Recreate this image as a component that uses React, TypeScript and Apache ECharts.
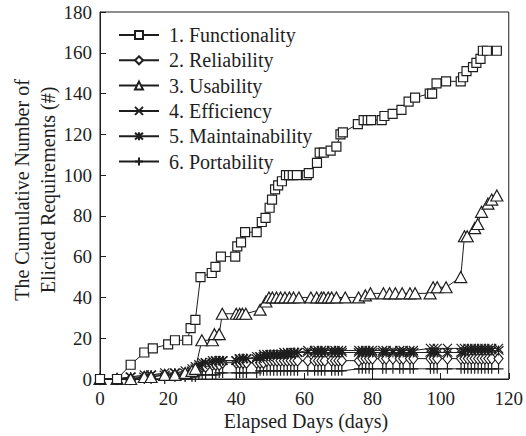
import React, { useEffect, useRef } from "react";
import * as echarts from "echarts";

const FONT = "Liberation Serif";
const INK = "#1e1e1e";

const seriesNames = [
  "1. Functionality",
  "2. Reliability",
  "3. Usability",
  "4. Efficiency",
  "5. Maintainability",
  "6. Portability",
];

const xTicks = [0, 20, 40, 60, 80, 100, 120];
const yTicks = [0, 20, 40, 60, 80, 100, 120, 140, 160, 180];

const funcDays = [0, 5, 9, 13, 15.5, 20, 22, 25.6, 26.6, 28, 29.5, 32.8, 33.9, 35.5, 39.7, 40.3, 41.4, 42.6, 46, 47.5, 48.6, 49.8, 50.5, 51.4, 52.3, 53.4, 54.6, 55.5, 56.6, 57.8, 60.7, 61.3, 63.7, 64.5, 65.7, 67.7, 69.4, 70.6, 71.3, 75.7, 77.4, 78.6, 79.6, 82.7, 83.5, 85.9, 88.5, 90.6, 92.5, 96.8, 97.5, 98.8, 101.6, 105.9, 106.6, 107.6, 109.5, 110.5, 111.7, 112.4, 113.6, 116.5];
const funcVals = [0, 0, 7, 13, 15, 17, 19, 19, 25, 29, 50, 52, 55, 60, 60, 65, 67, 72, 72, 77, 79, 84, 88, 93, 95, 97, 100, 100, 100, 100, 100, 101, 106, 111, 111, 112, 114, 120, 121, 125, 127, 127, 127, 127, 129, 130, 132, 136, 138, 140, 140, 145, 146, 146, 148, 151, 153, 155, 157, 161, 161, 161];

const usabDays = [0, 5, 9, 13, 15, 19, 22, 25, 27, 28, 29.9, 33, 33.6, 35, 35.9, 40, 41, 41.8, 42.8, 47, 48.7, 49.6, 50.6, 51.8, 53, 54.3, 55.6, 56.8, 58.4, 61.9, 63.6, 65, 65.7, 67, 68, 69.4, 72, 75.9, 77.9, 79.4, 83.2, 85, 86.7, 88.7, 91, 92.5, 96.9, 97.8, 99, 101.6, 105.9, 107, 107.8, 110, 110.9, 112, 113.9, 115, 116.5];
const usabVals = [0, 0, 0, 1, 1, 2, 2, 3, 4, 5, 19, 19, 22, 22, 32, 32, 32, 32, 32, 34, 38, 40, 40, 40, 40, 40, 40, 40, 40, 40, 40, 40, 40, 40, 40, 40, 40, 40, 41, 42, 42, 42, 42, 42, 42, 42, 42, 45, 45, 45, 50, 70, 70, 74, 76, 82, 86, 88, 90];

const lowDays = [0, 5, 9, 13, 15, 19, 22, 25, 27, 28, 29, 30, 31, 33, 34, 35, 36, 40, 41, 42, 43, 46, 47, 48, 49, 50, 51, 52, 53, 54, 55, 56, 57, 58, 61, 63, 64, 65, 66, 68, 69, 70, 71, 76, 77, 78, 79, 80, 83, 84, 86, 88, 89, 91, 92, 97, 98, 99, 102, 106, 107, 108, 109, 110, 111, 112, 113, 114, 115, 117];
const reliVals = [0, 0, 0, 1, 1, 2, 2, 2, 3, 4, 5, 6, 6, 7, 7, 7, 8, 8, 8, 8, 8, 8, 8, 8, 9, 9, 9, 9, 9, 9, 9, 9, 9, 9, 9, 9, 9, 9, 9, 9, 9, 9, 9, 9, 10, 10, 10, 10, 10, 10, 10, 10, 10, 10, 10, 10, 10, 10, 10, 10, 10, 10, 10, 10, 10, 10, 10, 10, 10, 10];
const effiVals = [0, 0, 1, 2, 2, 3, 3, 4, 5, 6, 7, 8, 8, 9, 9, 9, 9, 9, 10, 10, 10, 11, 11, 12, 12, 12, 12, 12, 12, 13, 13, 13, 13, 13, 14, 14, 14, 14, 14, 14, 14, 14, 14, 14, 14, 14, 14, 14, 14, 14, 14, 14, 14, 14, 14, 15, 15, 15, 15, 15, 15, 15, 15, 15, 15, 15, 15, 15, 15, 15];
const mainVals = [0, 0, 1, 1, 2, 2, 3, 3, 4, 5, 6, 7, 8, 8, 9, 9, 9, 9, 10, 10, 10, 10, 11, 11, 11, 12, 12, 12, 12, 12, 12, 12, 13, 13, 13, 13, 13, 13, 13, 13, 13, 13, 13, 13, 13, 13, 13, 13, 13, 13, 13, 13, 13, 13, 13, 13, 13, 13, 13, 13, 13, 14, 14, 14, 14, 14, 14, 14, 14, 14];
const portVals = [0, 0, 0, 0, 0, 0, 1, 1, 1, 1, 2, 2, 2, 2, 2, 3, 3, 3, 3, 3, 3, 3, 4, 4, 4, 4, 4, 4, 4, 4, 4, 4, 4, 4, 4, 4, 4, 4, 4, 4, 4, 4, 4, 5, 5, 5, 5, 5, 5, 5, 5, 5, 5, 5, 5, 5, 5, 5, 5, 5, 5, 5, 5, 5, 5, 5, 5, 5, 5, 5];

const pairs = (xs: number[], ys: number[]) => xs.map((x, i) => [x, ys[i]]);

const X_SYM = "path://M0,0L10,10M10,0L0,10";
const AST_SYM = "path://M0,0L10,10M10,0L0,10M5,-1L5,11";
const PLUS_SYM = "path://M5,0L5,10M0,5L10,5";

export default function App() {
  const ref = useRef<HTMLDivElement>(null);
  useEffect(() => {
    if (!ref.current) return;
    const chart = echarts.init(ref.current, undefined, { renderer: "svg" });
    const mk = (name: string, data: number[][], symbol: string, size: any, z: number) => ({
      name,
      type: "line",
      data,
      symbol,
      symbolSize: size,
      showSymbol: true,
      showAllSymbol: true,
      z,
      lineStyle: { color: INK, width: 1 },
      itemStyle: { color: "#fff", borderColor: INK, borderWidth: 1.2 },
      emphasis: { disabled: true },
    });
    const titleStyle = {
      fontFamily: FONT,
      fontSize: 20,
      fill: INK,
      textAlign: "center",
      textVerticalAlign: "middle",
    };
    chart.setOption({
      animation: false,
      backgroundColor: "#fff",
      textStyle: { fontFamily: FONT },
      grid: {
        left: 100,
        right: 16,
        top: 12,
        bottom: 57,
        show: true,
        borderColor: INK,
        borderWidth: 1,
        backgroundColor: "transparent",
      },
      legend: {
        orient: "vertical",
        left: 113,
        top: 20,
        itemWidth: 40,
        itemHeight: 10,
        itemGap: 5.3,
        data: seriesNames,
        textStyle: { fontFamily: FONT, fontSize: 20, color: INK, lineHeight: 18, padding: [0, 0, 0, 5] },
        inactiveColor: INK,
        selectedMode: false,
      },
      xAxis: {
        type: "value",
        min: xTicks[0],
        max: xTicks[xTicks.length - 1],
        interval: 20,
        splitLine: { show: false },
        axisLine: { show: true, lineStyle: { color: INK } },
        axisTick: { show: true, inside: true, length: 6, lineStyle: { color: INK } },
        axisLabel: { fontFamily: FONT, fontSize: 19, color: INK, margin: 10 },
      },
      yAxis: {
        type: "value",
        min: yTicks[0],
        max: yTicks[yTicks.length - 1],
        interval: 20,
        splitLine: { show: false },
        axisLine: { show: true, lineStyle: { color: INK } },
        axisTick: { show: true, inside: true, length: 6, lineStyle: { color: INK } },
        axisLabel: { fontFamily: FONT, fontSize: 19, color: INK, margin: 8 },
      },
      graphic: [
        { type: "text", x: 306, y: 421, style: { ...titleStyle, text: "Elapsed Days (days)" } },
        { type: "text", x: 22, y: 190, rotation: Math.PI / 2, style: { ...titleStyle, text: "The Cumulative Number of" } },
        { type: "text", x: 48, y: 190, rotation: Math.PI / 2, style: { ...titleStyle, text: "Elicited Requirements (#)" } },
      ],
      series: [
        mk(seriesNames[0], pairs(funcDays, funcVals), "rect", 9, 6),
        mk(seriesNames[1], pairs(lowDays, reliVals), "diamond", [9, 11], 3),
        mk(seriesNames[2], pairs(usabDays, usabVals), "triangle", [12, 11], 5),
        mk(seriesNames[3], pairs(lowDays, effiVals), X_SYM, 9, 4),
        mk(seriesNames[4], pairs(lowDays, mainVals), AST_SYM, 10, 4),
        mk(seriesNames[5], pairs(lowDays, portVals), PLUS_SYM, 10, 2),
      ],
    });
    return () => chart.dispose();
  }, []);
  return <div ref={ref} style={{ width: 526, height: 436, position: "absolute", left: 0, top: 0 }} />;
}
